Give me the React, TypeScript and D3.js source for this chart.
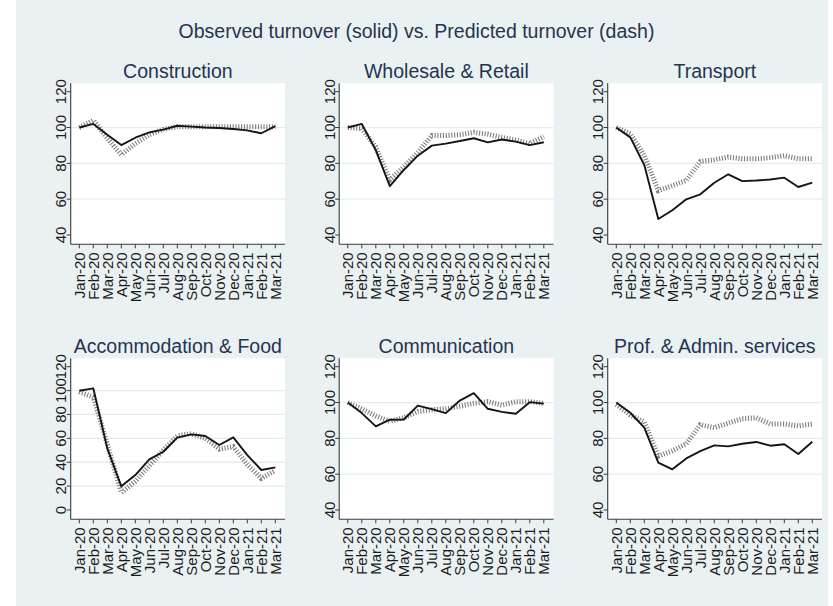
import React from "react";
import * as d3 from "d3";

const months = ["Jan-20","Feb-20","Mar-20","Apr-20","May-20","Jun-20","Jul-20","Aug-20","Sep-20","Oct-20","Nov-20","Dec-20","Jan-21","Feb-21","Mar-21"];

const sectorNames = ["Construction","Wholesale & Retail","Transport","Accommodation & Food","Communication","Prof. & Admin. services"];

const constructionObserved = [100,102,96,90.2,94.3,97.3,98.8,101,100.5,100,99.7,99.2,98.4,96.8,100.8];
const constructionPredicted = [100,104,94,84.8,91,96,99,100.5,100.5,100.5,100.5,100.5,100.5,100.5,100.5];

const wholesaleObserved = [100,102,87.4,67.3,76.3,84.3,89.9,91,92.5,94,91.7,93.3,92.1,90.2,91.8];
const wholesalePredicted = [100,99.5,89,70.7,78,86,95.6,95.5,96,97.3,96.3,94.5,93,91,95];

const transportObserved = [100,94.5,79.1,48.9,53.8,59.9,62.7,69.2,73.9,70.1,70.4,71,72,66.8,69.2];
const transportPredicted = [100,96.5,84.5,64.8,67.5,70.5,81,82,83.5,82.5,82.5,83.2,84.3,82.5,82.5];

const accommodationObserved = [99.9,101.9,51.6,19.8,29.3,42.4,48.8,60.6,63.3,62,54.4,60.8,46,33.5,35.7];
const accommodationPredicted = [99,94.5,55,14.5,24,37,50,62,64,60,51,53,38,26.5,33];

const communicationObserved = [100,94.1,86.7,90.4,90.5,98.3,96.3,94.1,101.1,105.2,96.5,94.8,93.7,100.2,99.4];
const communicationPredicted = [100,96.5,92.5,89.5,91.5,95,96,96.5,98,99.5,100.5,98.5,100.5,100.5,99.5];

const profObserved = [100,94.3,86,66.4,62.7,68.8,72.9,76.1,75.5,77,78,75.9,76.7,71.3,78.1];
const profPredicted = [99,93,89,70.1,73,77,87.6,86,88.5,91,91.5,88,88,87,88];

const observedSeries = [constructionObserved, wholesaleObserved, transportObserved, accommodationObserved, communicationObserved, profObserved];
const predictedSeries = [constructionPredicted, wholesalePredicted, transportPredicted, accommodationPredicted, communicationPredicted, profPredicted];

const yTicksDefault = [40, 60, 80, 100, 120];
const yTicksAccommodation = [0, 20, 40, 60, 80, 100, 120];
const yTickSets = [yTicksDefault, yTicksDefault, yTicksDefault, yTicksAccommodation, yTicksDefault, yTicksDefault];

const mainTitle = "Observed turnover (solid) vs. Predicted turnover (dash)";

const W = 833;
const H = 606;
const FONT = "'Liberation Sans', Arial, Helvetica, sans-serif";
const BG = "#eaf1f3";
const GRID = "#e3edf1";
const TITLE_COLOR = "#26344f";
const TICK_COLOR = "#1c1c1c";

const colAxisX = [70.7, 339.2, 607.7];
const plotW = 214.3;
const rowTop = [83.3, 358.3];
const rowAxisY = [244.3, 519.3];

function Panel({ idx }: { idx: number }) {
  const col = idx % 3;
  const row = Math.floor(idx / 3);
  const x0 = colAxisX[col];
  const x1 = x0 + plotW;
  const top = rowTop[row];
  const bottom = rowAxisY[row];
  const ticks = yTickSets[idx];

  const x = d3.scalePoint<string>().domain(months).range([x0 + 8.6, x1 - 9.7]);
  const y = d3
    .scaleLinear()
    .domain([d3.min(ticks) as number, d3.max(ticks) as number])
    .range([bottom - 9.3, top + 8.4]);

  const line = d3
    .line<number>()
    .x((_, i) => x(months[i]) as number)
    .y((d) => y(d));

  const obs = observedSeries[idx];
  const pred = predictedSeries[idx];

  return (
    <g>
      <rect x={x0} y={top} width={plotW} height={bottom - top} fill="#ffffff" />
      {ticks.slice(1, -1).map((t) => (
        <line key={"g" + t} x1={x0} x2={x1} y1={y(t)} y2={y(t)} stroke={GRID} strokeWidth={1.3} />
      ))}
      <path d={line(pred) || ""} fill="none" stroke="#7d7d7d" strokeWidth={5} strokeDasharray="1.1 1.7" />
      <path d={line(obs) || ""} fill="none" stroke="#151515" strokeWidth={1.9} strokeLinejoin="round" />
      <line x1={x0} x2={x0} y1={top} y2={bottom} stroke="#3a3a3a" strokeWidth={1.1} />
      <line x1={x0} x2={x1} y1={bottom} y2={bottom} stroke="#3a3a3a" strokeWidth={1.1} />
      {ticks.map((t) => (
        <g key={"y" + t}>
          <line x1={x0 - 4} x2={x0} y1={y(t)} y2={y(t)} stroke="#3a3a3a" strokeWidth={1} />
          <text
            transform={`translate(${x0 - 4.5},${y(t)}) rotate(-90)`}
            textAnchor="middle"
            fontSize={15}
            fontFamily={FONT}
            fill={TICK_COLOR}
          >
            {t}
          </text>
        </g>
      ))}
      {months.map((m) => (
        <g key={"x" + m}>
          <line x1={x(m)} x2={x(m)} y1={bottom} y2={bottom + 4} stroke="#3a3a3a" strokeWidth={1} />
          <text
            transform={`translate(${x(m)},${bottom + 8}) rotate(-90)`}
            textAnchor="end"
            dy="0.36em"
            fontSize={15}
            fontFamily={FONT}
            fill={TICK_COLOR}
          >
            {m}
          </text>
        </g>
      ))}
      <text
        x={(x0 + x1) / 2}
        y={top - 5.8}
        textAnchor="middle"
        fontSize={19.5}
        fontFamily={FONT}
        fill={TITLE_COLOR}
      >
        {sectorNames[idx]}
      </text>
    </g>
  );
}

export default function App() {
  return (
    <div style={{ position: "absolute", left: 0, top: 0 }}>
      <svg width={W} height={H} style={{ display: "block" }}>
        <rect x={0} y={0} width={W} height={H} fill="#ffffff" />
        <rect x={16} y={0} width={812} height={H} fill={BG} />
        <text x={416.5} y={38.3} textAnchor="middle" fontSize={19.5} fontFamily={FONT} fill={TITLE_COLOR}>
          {mainTitle}
        </text>
        {sectorNames.map((_, i) => (
          <Panel key={i} idx={i} />
        ))}
      </svg>
    </div>
  );
}
